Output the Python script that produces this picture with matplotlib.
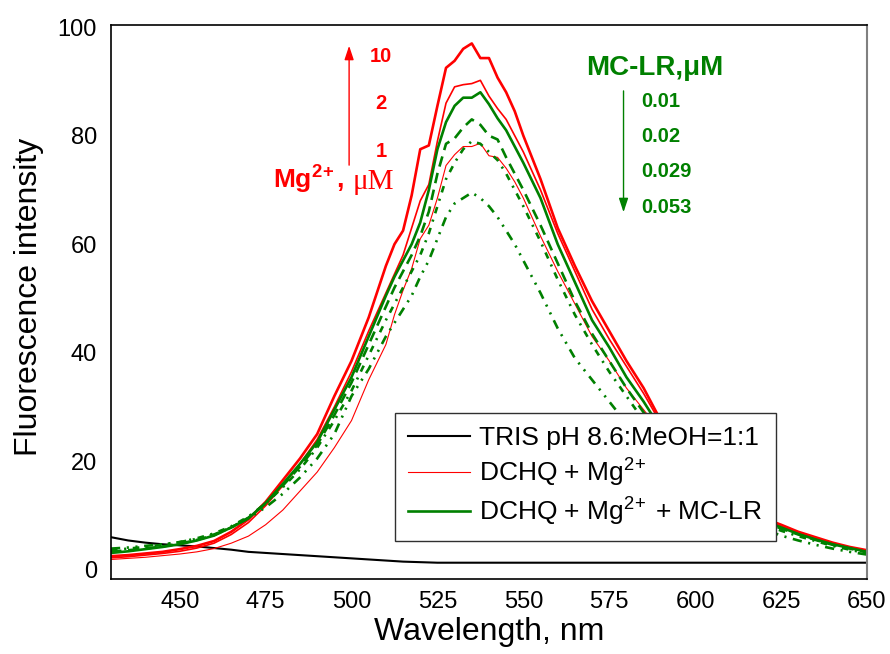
import matplotlib
matplotlib.use("Agg")
import matplotlib.pyplot as plt

plt.rcParams['font.family'] = ['Liberation Sans', 'DejaVu Sans']
plt.rcParams['mathtext.fontset'] = 'custom'
plt.rcParams['mathtext.rm'] = 'Liberation Sans'
plt.rcParams['mathtext.it'] = 'Liberation Sans:italic'
plt.rcParams['mathtext.bf'] = 'Liberation Sans:bold'

# wavelengths, finer around the maximum
wl = [430, 435, 440, 445, 450, 455, 460, 465, 470, 475, 480, 485, 490, 495, 500, 505,
      510, 512.5, 515, 517.5, 520, 522.5, 525, 527.5, 530, 532.5, 535, 537.5, 540, 542.5, 545, 547.5,
      550, 555, 560, 565, 570, 575, 580, 585, 590, 595, 600, 605, 610, 615, 620, 625, 630, 635, 640, 645, 650]

tris = [6.0, 5.4, 5.0, 4.7, 4.5, 4.3, 4.0, 3.7, 3.3, 3.1, 2.9, 2.7, 2.5, 2.3, 2.1, 1.9,
        1.7, 1.6, 1.5, 1.45, 1.4, 1.35, 1.3, 1.3, 1.3, 1.3, 1.3, 1.3, 1.3, 1.3, 1.3, 1.3,
        1.3, 1.3, 1.3, 1.3, 1.3, 1.3, 1.3, 1.3, 1.3, 1.3, 1.3, 1.3, 1.3, 1.3, 1.3, 1.3, 1.3, 1.3, 1.3, 1.3, 1.3]

# DCHQ + Mg2+ : 1, 2, 10 uM
mg_1 = [1.9, 2.1, 2.3, 2.6, 2.9, 3.3, 3.9, 4.9, 6.2, 8.3, 11.0, 14.5, 18.0, 22.5, 27.5, 35.0,
        41.5, 47.0, 51.5, 55.5, 61.0, 63.5, 68.5, 74.5, 76.5, 78.0, 78.0, 78.6, 76.3, 76.0, 74.0, 71.5,
        68.5, 61.5, 55.0, 49.0, 43.0, 38.5, 33.5, 29.5, 25.5, 21.0, 17.5, 14.8, 12.3, 10.4, 9.0, 7.8,
        6.7, 5.7, 4.8, 4.0, 3.4]
mg_2 = [2.2, 2.4, 2.7, 3.0, 3.4, 4.0, 4.9, 6.5, 8.7, 11.8, 15.5, 19.5, 24.0, 30.0, 36.5, 44.0,
        51.0, 54.5, 58.0, 63.0, 68.0, 71.0, 79.0, 86.0, 89.0, 89.4, 89.6, 90.2, 87.3, 85.0, 83.0, 80.0,
        77.0, 70.0, 62.0, 55.0, 48.0, 42.5, 37.5, 32.5, 27.0, 22.5, 18.5, 15.5, 12.8, 10.8, 9.3, 8.1,
        6.9, 5.9, 4.9, 4.1, 3.5]
mg_10 = [2.5, 2.7, 3.0, 3.3, 3.8, 4.4, 5.3, 7.0, 9.3, 12.5, 16.5, 20.5, 25.0, 32.0, 38.5, 46.5,
         56.0, 60.0, 62.5, 69.0, 77.5, 78.2, 85.5, 92.5, 93.8, 96.0, 97.0, 94.3, 94.3, 90.7, 88.0, 84.5,
         80.0, 72.0, 63.0, 56.0, 49.5, 44.0, 38.5, 33.5, 27.5, 23.0, 19.0, 16.0, 13.0, 11.0, 9.5, 8.3,
         7.0, 6.0, 5.0, 4.2, 3.6]

# DCHQ + Mg2+ + MC-LR : 0.01, 0.02, 0.029, 0.053 uM
mc_001 = [3.1, 3.4, 3.8, 4.2, 4.7, 5.4, 6.3, 7.8, 9.5, 12.3, 15.8, 19.5, 23.5, 29.5, 35.5, 43.0,
          50.5, 54.0, 57.0, 60.0, 64.0, 70.0, 77.5, 82.5, 85.5, 87.0, 87.0, 88.0, 85.8, 83.2, 81.0, 78.0,
          75.0, 68.5, 60.0, 53.0, 46.0, 41.0, 35.5, 31.0, 26.0, 21.5, 18.0, 15.0, 12.5, 10.5, 9.0, 7.8,
          6.6, 5.6, 4.7, 4.0, 3.3]
mc_002 = [3.3, 3.6, 3.9, 4.3, 4.8, 5.5, 6.4, 7.8, 9.6, 12.2, 15.5, 19.0, 23.0, 28.5, 34.5, 41.5,
          48.5, 52.0, 55.0, 58.0, 61.5, 66.0, 73.0, 78.5, 79.5, 81.5, 83.0, 82.0, 80.0, 79.3, 76.0, 73.0,
          70.0, 63.5, 56.5, 49.5, 43.5, 38.5, 33.5, 29.0, 24.5, 20.5, 17.0, 14.3, 12.0, 10.2, 8.8, 7.6,
          6.5, 5.5, 4.6, 3.9, 3.2]
mc_0029 = [3.6, 3.9, 4.2, 4.6, 5.1, 5.8, 6.7, 8.0, 9.8, 12.2, 15.2, 18.5, 22.5, 27.5, 33.0, 39.5,
           46.0, 49.0, 52.0, 55.0, 58.0, 62.0, 67.0, 72.0, 75.0, 77.5, 79.0, 78.5, 77.0, 75.5, 73.0, 70.0,
           67.0, 60.5, 53.5, 47.0, 41.5, 36.5, 32.0, 27.5, 23.5, 19.5, 16.3, 13.7, 11.5, 9.8, 8.4, 7.2,
           6.2, 5.3, 4.4, 3.7, 3.0]
mc_0053 = [3.9, 4.1, 4.4, 4.7, 5.1, 5.7, 6.5, 7.8, 9.5, 11.5, 14.0, 17.0, 20.5, 25.0, 32.0, 37.0,
           43.0, 45.5, 48.0, 50.5, 54.0, 57.0, 61.0, 65.0, 67.5, 68.5, 69.5, 68.5, 67.0, 65.0, 62.5, 60.0,
           57.0, 51.0, 44.5, 39.0, 35.0, 31.0, 27.0, 23.5, 20.0, 17.0, 14.5, 12.3, 10.5, 9.0, 7.5, 6.3,
           5.4, 4.6, 3.9, 3.3, 2.8]

xticks = [450, 475, 500, 525, 550, 575, 600, 625, 650]
yticks = [0, 20, 40, 60, 80, 100]

red = '#ff0000'
green = '#008000'

fig = plt.figure(figsize=(8.9, 6.54), dpi=100)
ax = fig.add_axes([0.1247, 0.1147, 0.8494, 0.8471])

l_tris, = ax.plot(wl, tris, color='black', lw=1.5)
l_red, = ax.plot(wl, mg_1, color=red, lw=0.8)
ax.plot(wl, mg_2, color=red, lw=1.2)
ax.plot(wl, mg_10, color=red, lw=1.9)
l_green, = ax.plot(wl, mc_001, color=green, lw=1.9)
ax.plot(wl, mc_002, color=green, lw=1.9, ls=(0, (4, 2.5)))
ax.plot(wl, mc_0029, color=green, lw=1.9, ls=(0, (2.5, 2.5, 0.8, 2.5)))
ax.plot(wl, mc_0053, color=green, lw=1.9, ls=(0, (3.5, 2.5, 0.8, 2.5, 0.8, 2.5)))

ax.set_xlim(430, 650)
ax.set_ylim(-1.7, 100.4)
ax.set_xticks(xticks)
ax.set_yticks(yticks)
ax.tick_params(length=0, labelsize=17)
ax.tick_params(axis='x', pad=9)
ax.tick_params(axis='y', pad=10)
ax.set_xlabel('Wavelength, nm', fontsize=23)
ax.set_ylabel('Fluorescence intensity', fontsize=23)
ax.xaxis.set_label_coords(0.5, -0.068)
ax.yaxis.set_label_coords(-0.088, 0.51)
for s in ['left', 'bottom', 'top']:
    ax.spines[s].set_linewidth(1.2)
ax.spines['right'].set_color('#808080')
ax.spines['right'].set_linewidth(1.5)

leg = ax.legend([l_tris, l_red, l_green],
                ['TRIS pH 8.6:MeOH=1:1', 'DCHQ + Mg$^{2\\!+}$', 'DCHQ + Mg$^{2\\!+}\\;$+ MC-LR'],
                loc='upper left', bbox_to_anchor=(0.3757, 0.2996), borderaxespad=0,
                fontsize=19, frameon=True, fancybox=False, framealpha=1,
                handlelength=2.35, handletextpad=0.35, labelspacing=0.25, borderpad=0.5)
leg.get_frame().set_edgecolor('#303030')
leg.get_frame().set_linewidth(1.0)
leg.set_zorder(10)

arrow = '-|>,head_length=0.6,head_width=0.2'

# Mg2+ annotation
ax.annotate('', xy=(0.315, 0.9675), xytext=(0.315, 0.742), xycoords='axes fraction',
            arrowprops=dict(arrowstyle=arrow, color=red, lw=1.0, mutation_scale=14))
ax.text(0.214, 0.704, 'Mg$^{\\mathbf{2\\!+}}$,', transform=ax.transAxes, color=red,
        fontsize=19, fontweight='bold', va='baseline', ha='left')
ax.text(0.319, 0.704, 'μM', transform=ax.transAxes, color=red,
        fontsize=21, family='Liberation Serif', va='baseline', ha='left')
for lab, yf in zip(['10', '2', '1'], [0.943, 0.859, 0.771]):
    ax.text(0.357, yf, lab, transform=ax.transAxes, color=red, fontsize=14.5,
            fontweight='bold', ha='center', va='center')

# MC-LR annotation
ax.text(0.629, 0.910, 'MC-LR,μM', transform=ax.transAxes, color=green,
        fontsize=20, fontweight='bold', va='baseline', ha='left')
ax.annotate('', xy=(0.678, 0.657), xytext=(0.678, 0.886), xycoords='axes fraction',
            arrowprops=dict(arrowstyle=arrow, color=green, lw=1.0, mutation_scale=14))
for lab, yf in zip(['0.01', '0.02', '0.029', '0.053'], [0.8616, 0.798, 0.735, 0.670]):
    ax.text(0.702, yf, lab, transform=ax.transAxes, color=green, fontsize=14.5,
            fontweight='bold', ha='left', va='center')

fig.savefig('out.png', dpi=100)
